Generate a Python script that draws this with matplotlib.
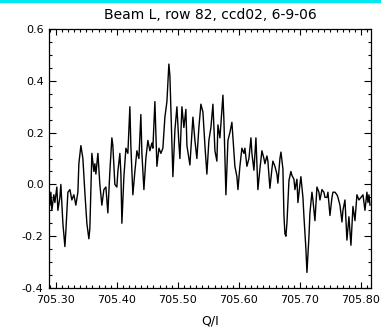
import numpy as np
import matplotlib
matplotlib.use('Agg')
import matplotlib.pyplot as plt
from matplotlib.patches import Rectangle
from matplotlib.ticker import MultipleLocator, FormatStrFormatter

# spectrum (Q/I, signal)
q = [705.2902, 705.2918, 705.2934, 705.2967, 705.2984, 705.3016, 705.3033, 705.3066,
     705.3082, 705.3115, 705.3148, 705.3164, 705.3197, 705.3230, 705.3262, 705.3295,
     705.3328, 705.3361, 705.3377, 705.3410, 705.3443, 705.3475, 705.3508, 705.3541,
     705.3557, 705.3590, 705.3623, 705.3639, 705.3656, 705.3689, 705.3721, 705.3754,
     705.3787, 705.3820, 705.3852, 705.3885, 705.3918, 705.3934, 705.3967, 705.4000,
     705.4016, 705.4049, 705.4066, 705.4082, 705.4115, 705.4148, 705.4180, 705.4213,
     705.4229, 705.4262, 705.4295, 705.4328, 705.4361, 705.4393, 705.4410, 705.4443,
     705.4475, 705.4508, 705.4541, 705.4574, 705.4590, 705.4623, 705.4656, 705.4689,
     705.4721, 705.4754, 705.4787, 705.4820, 705.4852, 705.4869, 705.4902, 705.4918,
     705.4951, 705.4984, 705.5016, 705.5033, 705.5066, 705.5098, 705.5131, 705.5148,
     705.5197, 705.5246, 705.5279, 705.5311, 705.5344, 705.5377, 705.5410, 705.5443,
     705.5475, 705.5508, 705.5541, 705.5574, 705.5607, 705.5639, 705.5656, 705.5689,
     705.5738, 705.5754, 705.5787, 705.5820, 705.5852, 705.5885, 705.5902, 705.5934,
     705.5967, 705.5984, 705.6016, 705.6049, 705.6082, 705.6098, 705.6131, 705.6164,
     705.6197, 705.6213, 705.6246, 705.6279, 705.6295, 705.6311, 705.6344, 705.6377,
     705.6410, 705.6426, 705.6459, 705.6475, 705.6508, 705.6541, 705.6557, 705.6590,
     705.6623, 705.6639, 705.6672, 705.6689, 705.6721, 705.6738, 705.6754, 705.6770,
     705.6787, 705.6820, 705.6852, 705.6869, 705.6902, 705.6918, 705.6951, 705.6967,
     705.7000, 705.7016, 705.7049, 705.7066, 705.7098, 705.7115, 705.7148, 705.7164,
     705.7197, 705.7213, 705.7246, 705.7279, 705.7311, 705.7328, 705.7361, 705.7393,
     705.7410, 705.7443, 705.7459, 705.7492, 705.7525, 705.7541, 705.7574, 705.7607,
     705.7623, 705.7656, 705.7689, 705.7705, 705.7738, 705.7770, 705.7803, 705.7836,
     705.7869, 705.7902, 705.7934, 705.7967, 705.8000, 705.8033, 705.8066, 705.8098,
     705.8115, 705.8131, 705.8148]
signal = [-0.08, -0.03, -0.10, -0.04, -0.07, -0.01, -0.10, -0.05,
          0.00, -0.15, -0.24, -0.18, -0.03, -0.02, -0.06, -0.04,
          -0.08, -0.03, 0.08, 0.15, 0.10, -0.03, -0.15, -0.21,
          -0.17, 0.12, 0.05, 0.08, 0.04, 0.12, 0.00, -0.08,
          -0.02, -0.01, -0.11, 0.05, 0.18, 0.15, 0.00, -0.01,
          0.05, 0.12, 0.04, -0.15, 0.03, 0.14, 0.12, 0.30,
          0.15, -0.04, 0.05, 0.13, 0.10, 0.27, 0.12, -0.02,
          0.10, 0.17, 0.13, 0.16, 0.14, 0.32, 0.07, 0.14,
          0.12, 0.14, 0.26, 0.32, 0.465, 0.42, 0.15, 0.03,
          0.21, 0.30, 0.16, 0.10, 0.30, 0.22, 0.29, 0.15,
          0.075, 0.26, 0.17, 0.10, 0.22, 0.31, 0.28, 0.15,
          0.04, 0.17, 0.22, 0.31, 0.13, 0.09, 0.23, 0.18,
          0.345, 0.25, -0.04, 0.17, 0.20, 0.24, 0.18, 0.07,
          0.03, -0.02, 0.07, 0.14, 0.12, 0.14, 0.07, 0.10,
          0.18, 0.12, 0.055, 0.18, 0.08, -0.02, 0.06, 0.13,
          0.10, 0.08, 0.11, 0.09, -0.015, 0.06, 0.09, 0.07,
          0.04, 0.005, 0.10, 0.125, 0.06, -0.12, -0.19, -0.20,
          -0.15, 0.015, 0.05, 0.035, 0.02, -0.02, 0.02, -0.07,
          0.00, 0.03, -0.05, -0.125, -0.25, -0.34, -0.20, -0.11,
          -0.03, -0.06, -0.14, -0.01, -0.03, -0.06, -0.02, -0.03,
          -0.05, -0.05, -0.03, -0.12, -0.05, -0.03, -0.03, -0.04,
          -0.05, -0.08, -0.145, -0.10, -0.06, -0.215, -0.125, -0.235,
          -0.085, -0.14, -0.04, -0.06, -0.05, -0.04, -0.10, -0.03,
          -0.07, -0.04, -0.08]

title = 'Beam L, row 82, ccd02, 6-9-06'
xlabel = 'Q/I'

fig = plt.figure(figsize=(3.81, 3.31), dpi=100)
ax = fig.add_axes([0.129, 0.130, 0.844, 0.782])

ax.plot(q, signal, color='k', linewidth=1.0)
ax.set_xlim(705.289, 705.816)
ax.set_ylim(-0.4, 0.6)

ax.xaxis.set_major_locator(MultipleLocator(0.1))
ax.xaxis.set_minor_locator(MultipleLocator(0.01))
ax.yaxis.set_major_locator(MultipleLocator(0.2))
ax.yaxis.set_minor_locator(MultipleLocator(0.05))
ax.xaxis.set_major_formatter(FormatStrFormatter('%.2f'))
ax.yaxis.set_major_formatter(FormatStrFormatter('%.1f'))

ax.tick_params(which='both', direction='in', top=True, right=True,
               labelsize=8, width=0.8)
ax.tick_params(axis='y', which='major', length=5, pad=4)
ax.tick_params(axis='y', which='minor', length=2.5)
ax.tick_params(axis='x', which='major', length=4, pad=5)
ax.tick_params(axis='x', which='minor', length=2)
for s in ax.spines.values():
    s.set_linewidth(0.9)

ax.set_title(title, fontsize=10, pad=7)
ax.set_xlabel(xlabel, fontsize=9, labelpad=7)

# cyan strip along the top edge of the screenshot
fig.patches.append(Rectangle((0, 0.993), 1, 0.007, transform=fig.transFigure,
                             color='#00e8f0', zorder=5))

fig.savefig('out.png', dpi=100)
